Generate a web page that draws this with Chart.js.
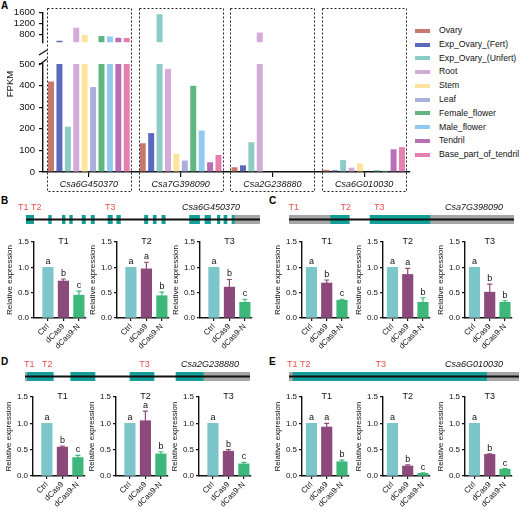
<!DOCTYPE html>
<html lang="en">
<head>
<meta charset="UTF-8">
<title>dCas9 expression figure</title>
<script src="https://cdn.jsdelivr.net/npm/chart.js@4.4.0/dist/chart.umd.min.js"></script>
<style>
  body { margin: 0; background: #fff; font-family: "Liberation Sans", Arial, sans-serif; }
  #fig { position: relative; width: 520px; height: 511px; overflow: hidden; background: #fff; }
  #fig canvas { position: absolute; }
  .tag { position: absolute; font-weight: bold; font-size: 10px; line-height: 10px; color: #000; }
  #legend { position: absolute; left: 415px; top: 24px; font-size: 8.7px; color: #111; }
  #legend .row { height: 13.8px; line-height: 13.8px; white-space: nowrap; }
  #legend .sw { display: inline-block; width: 15px; height: 4px; margin-right: 9px; vertical-align: middle; }
</style>
</head>
<body>
<div id="fig">
  <div class="tag" style="left:1px;top:1px">A</div>
  <div class="tag" style="left:1px;top:196px">B</div>
  <div class="tag" style="left:269px;top:196px">C</div>
  <div class="tag" style="left:1px;top:357px">D</div>
  <div class="tag" style="left:269px;top:357px">E</div>
  <div id="legend"></div>
</div>

<script>
  // ---- panel A: FPKM of the four genes in ten tissues ----
  const genes = ['Csa6G450370', 'Csa7G398090', 'Csa2G238880', 'Csa6G010030'];
  const tissues = ['Ovary', 'Exp_Ovary_(Fert)', 'Exp_Ovary_(Unfert)', 'Root', 'Stem', 'Leaf',
    'Female_flower', 'Male_flower', 'Tendril', 'Base_part_of_tendril'];
  // one value per gene, same order as genes
  const ovary = [419, 133, 22, 10];
  const expOvaryFert = [558, 180, 31, 8];
  const expOvaryUnfert = [210, 1547, 138, 55];
  const root = [1040, 477, 862, 20];
  const stem = [775, 84, 0, 40];
  const leaf = [393, 53, 0, 3];
  const femaleFlower = [730, 399, 0, 8];
  const maleFlower = [712, 192, 0, 6];
  const tendril = [667, 45, 0, 105];
  const baseOfTendril = [658, 79, 0, 115];
  const fpkm = [ovary, expOvaryFert, expOvaryUnfert, root, stem, leaf, femaleFlower, maleFlower, tendril, baseOfTendril];
  const lowTicks = [0, 100, 200, 300, 400, 500];
  const highTicks = [800, 1200, 1600];

  // ---- panels B-E: relative expression, rows = T1, T2, T3 ----
  const treatments = ['Ctrl', 'dCas9', 'dCas9-N'];
  const exprTicks = [0, 0.5, 1.0, 1.5];
  const relB = [[1, 0.73, 0.45], [1, 0.97, 0.44], [1, 0.61, 0.31]];
  const errB = [[0, 0.04, 0.08], [0, 0.13, 0.07], [0, 0.15, 0.06]];
  const sigB = [['a', 'b', 'c'], ['a', 'a', 'b'], ['a', 'b', 'c']];
  const relC = [[1, 0.69, 0.35], [1, 0.86, 0.31], [1, 0.51, 0.31]];
  const errC = [[0, 0.06, 0.02], [0, 0.12, 0.09], [0, 0.16, 0.03]];
  const sigC = [['a', 'b', 'c'], ['a', 'a', 'b'], ['a', 'b', 'b']];
  const relD = [[1, 0.55, 0.35], [1, 1.05, 0.42], [1, 0.47, 0.23]];
  const errD = [[0, 0.02, 0.04], [0, 0.18, 0.04], [0, 0.03, 0.03]];
  const sigD = [['a', 'b', 'c'], ['a', 'a', 'b'], ['a', 'b', 'c']];
  const relE = [[1, 0.93, 0.27], [1, 0.19, 0.05], [1, 0.41, 0.13]];
  const errE = [[0, 0.07, 0.03], [0, 0.02, 0.01], [0, 0.01, 0.01]];
  const sigE = [['a', 'a', 'b'], ['a', 'b', 'c'], ['a', 'b', 'c']];

  // ---- gene models, positions along each model (arbitrary units) ----
  const bUtr = [[208.6, 233.6]];
  const bExons = [[0, 7.6], [22.6, 25.3], [36.3, 39], [43.6, 46.3], [56, 59.3], [65, 68.3], [82, 86], [90.6, 94.3],
    [118.3, 121.6], [127, 130], [135.6, 139], [163.3, 173.3], [178.6, 184.3], [191, 193.6], [197.6, 200.6], [205.6, 208.6]];
  const bSites = [[0, 3.6], [3.6, 7.6], [82, 86]];
  const cUtr = [[0, 41], [141.7, 225]];
  const cExons = [[41, 60.3], [81, 141.7]];
  const cSites = [[2.7, 7], [54.3, 59.3], [87.7, 92.7]];
  const dUtr = [[0, 1.7], [179, 225]];
  const dExons = [[1.7, 28.3], [45.7, 70], [105, 129], [151, 179]];
  const dSites = [[1.7, 6.7], [20, 24.3], [117.3, 121.7]];
  const eUtr = [[0, 3.3], [198.3, 230]];
  const eExons = [[3.3, 198.3]];
  const eSites = [[3.3, 6], [13.7, 16], [90.3, 93]];
  const siteNames = ['T1', 'T2', 'T3'];

  // colours
  const INK = '#111';
  const tissueColors = ['#c8796e', '#5b69bd', '#8ccbc6', '#d5abd9', '#fde39c', '#a9aedd', '#5fb680', '#91c9ef', '#b86fb3', '#e57fb0'];
  const treatColors = ['#7cc5cb', '#8c4a7c', '#3db77a'];
  const EXON = '#14a098', UTR = '#a6a6a6', SITE = '#cd8a66', SITE_DARK = '#5f8f7d', RED = '#e8504a';

  Chart.defaults.font.family = '"Liberation Sans", Arial, sans-serif';
  Chart.defaults.color = INK;
  Chart.defaults.plugins.legend.display = false;
  Chart.defaults.plugins.tooltip.enabled = false;

  // put a chart on the page so that its plot area sits exactly on `area` [l, t, r, b]
  function mount(area, pad, config, plugins) {
    const [l, t, r, b] = area.map(Math.round);
    const [pl, pt, pr, pb] = pad;
    const canvas = document.createElement('canvas');
    const w = r - l + pl + pr, h = b - t + pt + pb;
    canvas.width = w; canvas.height = h;
    canvas.style.left = (l - pl) + 'px';
    canvas.style.top = (t - pt) + 'px';
    canvas.style.width = w + 'px';
    canvas.style.height = h + 'px';
    document.getElementById('fig').appendChild(canvas);
    const sc = config.options.scales;
    const xShown = sc.x.display !== false, yShown = sc.y.display !== false;
    if (xShown) sc.x.afterFit = s => { s.height = pb; };
    if (yShown) sc.y.afterFit = s => { s.width = pl; };
    config.options.layout = { autoPadding: false, padding: { left: yShown ? 0 : pl, top: pt, right: pr, bottom: xShown ? 0 : pb } };
    config.options.responsive = false;
    config.options.animation = false;
    config.plugins = plugins || [];
    return new Chart(canvas, config);
  }

  // dotted boxes round each gene, broken-axis marks and the FPKM title
  const groupBoxes = {
    id: 'groupBoxes',
    afterDraw(chart) {
      const { ctx, chartArea: ca, scales: { x } } = chart;
      const half = x.width / genes.length * 0.917 / 2;
      ctx.save();
      ctx.strokeStyle = '#222';
      ctx.lineWidth = 1;
      ctx.setLineDash([2, 2]);
      genes.forEach((g, i) => {
        const cx = x.getPixelForValue(i);
        ctx.strokeRect(Math.round(cx - half) + 0.5, ca.top - 55.5, Math.round(2 * half), ca.bottom - ca.top + 75);
      });
      ctx.setLineDash([]);
      ctx.strokeStyle = INK;
      ctx.lineWidth = 1.4;
      ctx.beginPath();
      ctx.moveTo(ca.left - 4, ca.top - 9); ctx.lineTo(ca.left + 4, ca.top - 14);
      ctx.moveTo(ca.left - 4, ca.top + 1); ctx.lineTo(ca.left + 4, ca.top - 5);
      ctx.stroke();
      ctx.translate(ca.left - 33, ca.top + 20);
      ctx.rotate(-Math.PI / 2);
      ctx.fillStyle = INK;
      ctx.font = '9.5px "Liberation Sans", Arial, sans-serif';
      ctx.textAlign = 'center';
      ctx.textBaseline = 'middle';
      ctx.fillText('FPKM', 0, 0);
      ctx.restore();
    }
  };

  const axisGrid = len => ({ drawOnChartArea: false, color: INK, lineWidth: 1.2, tickLength: len, offset: false });
  const axisBorder = { color: INK, width: 1.4 };

  mount([43, 64, 410, 172], [43, 60, 10, 24], {
    type: 'bar',
    data: {
      labels: genes,
      datasets: tissues.map((t, i) => ({
        label: t, data: fpkm[i], backgroundColor: tissueColors[i],
        categoryPercentage: 0.917, barPercentage: 0.71, clip: 0
      }))
    },
    options: {
      scales: {
        x: { offset: true, grid: axisGrid(5), border: axisBorder,
          ticks: { color: INK, font: { size: 9, style: 'italic' }, padding: 2, maxRotation: 0, autoSkip: false } },
        y: { min: 0, max: 500, afterBuildTicks: s => { s.ticks = lowTicks.map(v => ({ value: v })); },
          grid: axisGrid(4), border: axisBorder, ticks: { color: INK, font: { size: 9.5 }, padding: 4, callback: v => String(v) } }
      }
    }
  }, [groupBoxes]);

  mount([43, 9, 410, 50], [43, 6, 10, 2], {
    type: 'bar',
    data: {
      labels: genes,
      datasets: tissues.map((t, i) => ({
        label: t, data: fpkm[i], backgroundColor: tissueColors[i],
        categoryPercentage: 0.917, barPercentage: 0.71, clip: 0
      }))
    },
    options: {
      scales: {
        x: { display: false, offset: true },
        y: { min: 500, max: 1600, afterBuildTicks: s => { s.ticks = highTicks.map(v => ({ value: v })); },
          grid: axisGrid(4), border: axisBorder, ticks: { color: INK, font: { size: 9.5 }, padding: 4, callback: v => String(v) } }
      }
    }
  });

  // legend
  const legend = document.getElementById('legend');
  tissues.forEach((t, i) => {
    const row = document.createElement('div');
    row.className = 'row';
    row.innerHTML = '<span class="sw" style="background:' + tissueColors[i] + '"></span>' + t;
    legend.appendChild(row);
  });

  // error bars, significance letters and T1/T2/T3 titles
  const markers = {
    id: 'markers',
    afterDatasetsDraw(chart, args, opts) {
      const { ctx, chartArea: ca, scales: { x, y } } = chart;
      const bars = chart.getDatasetMeta(0).data;
      ctx.save();
      ctx.font = '9px "Liberation Sans", Arial, sans-serif';
      ctx.textAlign = 'center';
      bars.forEach((bar, i) => {
        const top = y.getPixelForValue(opts.means[i] + opts.errs[i]);
        if (opts.errs[i] > 0) {
          ctx.strokeStyle = treatColors[i];
          ctx.lineWidth = 1.2;
          ctx.beginPath();
          ctx.moveTo(bar.x, bar.y); ctx.lineTo(bar.x, top);
          ctx.moveTo(bar.x - 2.5, top); ctx.lineTo(bar.x + 2.5, top);
          ctx.stroke();
        }
        ctx.fillStyle = INK;
        ctx.textBaseline = 'alphabetic';
        ctx.fillText(opts.sigs[i], bar.x, top - 3);
      });
      ctx.textBaseline = 'middle';
      ctx.fillText(opts.title, x.getPixelForValue(1), ca.top);
      ctx.restore();
    }
  };

  function exprChart(axisX, top, bottom, xMin, title, means, errs, sigs) {
    const xMax = 2.46;
    const width = Math.round((xMax - xMin) * 15.4);
    mount([axisX, top, axisX + width, bottom], [36, 14, 4, 36], {
      type: 'bar',
      data: {
        datasets: [{ data: means.map((v, i) => ({ x: i, y: v })), backgroundColor: treatColors, barThickness: 10.5, clip: false }]
      },
      options: {
        plugins: { markers: { title, means, errs, sigs } },
        scales: {
          x: { type: 'linear', offset: false, min: xMin, max: xMax,
            afterBuildTicks: s => { s.ticks = treatments.map((t, i) => ({ value: i })); },
            grid: axisGrid(3), border: axisBorder,
            ticks: { color: INK, font: { size: 8 }, padding: 1, minRotation: 45, maxRotation: 45, autoSkip: false,
              callback: v => treatments[v] } },
          y: { min: 0, max: 1.5, afterBuildTicks: s => { s.ticks = exprTicks.map(v => ({ value: v })); },
            grid: axisGrid(3), border: axisBorder,
            ticks: { color: INK, font: { size: 8 }, padding: 2, callback: v => v.toFixed(1) },
            title: { display: true, text: 'Relative expression', color: INK, font: { size: 8 }, padding: { top: 6.7, bottom: 0 } } }
        }
      }
    }, [markers]);
  }

  // T labels over the target sites and the gene name
  const modelText = {
    id: 'modelText',
    afterDraw(chart, args, opts) {
      const { ctx, chartArea: ca, scales: { x } } = chart;
      const yText = (ca.top + ca.bottom) / 2 - 12;
      const at = opts.sites.map(s => x.getPixelForValue((s[0] + s[1]) / 2));
      for (let i = 1; i < at.length; i++) {
        const gap = at[i] - at[i - 1];
        if (gap < 13) { at[i - 1] -= (13 - gap) / 2; at[i] += (13 - gap) / 2; }
      }
      ctx.save();
      ctx.textBaseline = 'middle';
      ctx.textAlign = 'center';
      ctx.fillStyle = RED;
      ctx.font = '9px "Liberation Sans", Arial, sans-serif';
      at.forEach((px, i) => ctx.fillText(siteNames[i], px, yText));
      ctx.fillStyle = INK;
      ctx.textAlign = 'right';
      ctx.font = 'italic 9px "Liberation Sans", Arial, sans-serif';
      ctx.fillText(opts.name, ca.left + 214, yText);
      ctx.restore();
    }
  };

  function geneChart(x0, yc, len, name, utr, exons, sites, siteColors) {
    const block = (range, color, thick) => ({ data: [range], backgroundColor: color, barThickness: thick, grouped: false });
    const datasets = [block([0, len], INK, 1.5)]
      .concat(utr.map(r => block(r, UTR, 9)))
      .concat(exons.map(r => block(r, EXON, 9)))
      .concat(sites.map((r, i) => block(r, siteColors[i], 9)));
    mount([x0, yc - 4.5, x0 + len, yc + 4.5], [12, 20, 12, 2], {
      type: 'bar',
      data: { labels: [name], datasets },
      options: {
        indexAxis: 'y',
        plugins: { modelText: { name, sites } },
        scales: {
          x: { display: false, type: 'linear', min: 0, max: len },
          y: { display: false }
        }
      }
    }, [modelText]);
  }

  geneChart(26, 219.5, 233.6, 'Csa6G450370', bUtr, bExons, bSites, [SITE, SITE_DARK, SITE_DARK]);
  geneChart(289, 219.5, 225, 'Csa7G398090', cUtr, cExons, cSites, [SITE, SITE, SITE]);
  geneChart(25, 376, 225, 'Csa2G238880', dUtr, dExons, dSites, [SITE, SITE, SITE]);
  geneChart(289, 376, 230, 'Csa6G010030', eUtr, eExons, eSites, [SITE, SITE, SITE]);

  const panels = [
    { axes: [34, 117, 200], top: 242, bottom: 318, xMin: -0.9, rel: relB, err: errB, sig: sigB },
    { axes: [302, 383, 465], top: 242, bottom: 318, xMin: -0.62, rel: relC, err: errC, sig: sigC },
    { axes: [33, 116, 199], top: 397, bottom: 476, xMin: -0.9, rel: relD, err: errD, sig: sigD },
    { axes: [302, 383, 465], top: 397, bottom: 476, xMin: -0.62, rel: relE, err: errE, sig: sigE }
  ];
  panels.forEach(p => {
    p.axes.forEach((ax, k) => exprChart(ax, p.top, p.bottom, p.xMin, siteNames[k], p.rel[k], p.err[k], p.sig[k]));
  });
</script>
</body>
</html>
